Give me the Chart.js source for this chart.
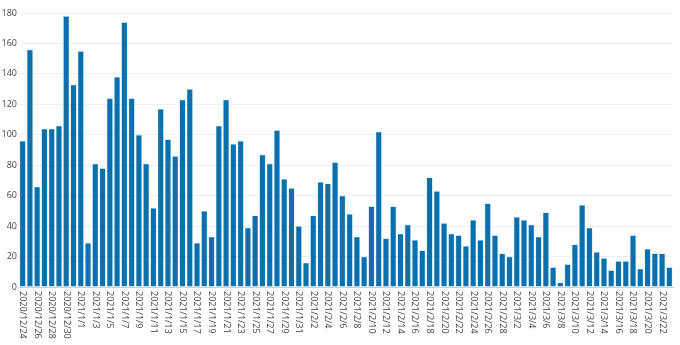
<!DOCTYPE html>
<html>
<head>
<meta charset="utf-8">
<script src="https://cdn.jsdelivr.net/npm/chart.js@4/dist/chart.umd.min.js"></script>
<style>
  html, body { margin: 0; padding: 0; background: #fff; }
  #wrap { width: 680px; height: 345px; position: relative; }
</style>
</head>
<body>
<div id="wrap"><canvas id="chart"></canvas></div>
<script>
// daily dates, one bar each
const dates = [
  '2020/12/24', '2020/12/25', '2020/12/26', '2020/12/27', '2020/12/28', '2020/12/29', '2020/12/30', '2020/12/31',
  '2021/1/1', '2021/1/2', '2021/1/3', '2021/1/4', '2021/1/5', '2021/1/6', '2021/1/7', '2021/1/8',
  '2021/1/9', '2021/1/10', '2021/1/11', '2021/1/12', '2021/1/13', '2021/1/14', '2021/1/15', '2021/1/16',
  '2021/1/17', '2021/1/18', '2021/1/19', '2021/1/20', '2021/1/21', '2021/1/22', '2021/1/23', '2021/1/24',
  '2021/1/25', '2021/1/26', '2021/1/27', '2021/1/28', '2021/1/29', '2021/1/30', '2021/1/31',
  '2021/2/1', '2021/2/2', '2021/2/3', '2021/2/4', '2021/2/5', '2021/2/6', '2021/2/7', '2021/2/8',
  '2021/2/9', '2021/2/10', '2021/2/11', '2021/2/12', '2021/2/13', '2021/2/14', '2021/2/15', '2021/2/16',
  '2021/2/17', '2021/2/18', '2021/2/19', '2021/2/20', '2021/2/21', '2021/2/22', '2021/2/23', '2021/2/24',
  '2021/2/25', '2021/2/26', '2021/2/27', '2021/2/28',
  '2021/3/1', '2021/3/2', '2021/3/3', '2021/3/4', '2021/3/5', '2021/3/6', '2021/3/7', '2021/3/8',
  '2021/3/9', '2021/3/10', '2021/3/11', '2021/3/12', '2021/3/13', '2021/3/14', '2021/3/15', '2021/3/16',
  '2021/3/17', '2021/3/18', '2021/3/19', '2021/3/20', '2021/3/21', '2021/3/22', '2021/3/23'
]

// daily counts
const counts = [
  96, 156, 66, 104, 104, 106, 178, 133, 155, 29,
  81, 78, 124, 138, 174, 124, 100, 81, 52, 117,
  97, 86, 123, 130, 29, 50, 33, 106, 123, 94,
  96, 39, 47, 87, 81, 103, 71, 65, 40, 16,
  47, 69, 68, 82, 60, 48, 33, 20, 53, 102,
  32, 53, 35, 41, 31, 24, 72, 63, 42, 35,
  34, 27, 44, 31, 55, 34, 22, 20, 46, 44,
  41, 33, 49, 13, 3, 15, 28, 54, 39, 23,
  19, 11, 17, 17, 34, 12, 25, 22, 22, 13
]

const yTicks = [0, 20, 40, 60, 80, 100, 120, 140, 160, 180]

const textColor = '#444'
const fontFamily = '"Open Sans", "DejaVu Sans", sans-serif'

// draws every other date label rotated clockwise, reading downward
const downLabels = {
  id: 'downLabels',
  afterDraw(chart) {
    const xScale = chart.scales.x
    const { ctx } = chart
    ctx.save()
    ctx.fillStyle = textColor
    ctx.font = '9px ' + fontFamily
    ctx.textAlign = 'left'
    ctx.textBaseline = 'middle'
    dates.forEach((d, i) => {
      if (i % 2 !== 0) return
      const x = xScale.getPixelForTick(i)
      ctx.save()
      ctx.translate(x, chart.chartArea.bottom + 4)
      ctx.rotate(Math.PI / 2)
      ctx.fillText(d, 0, 0)
      ctx.restore()
    })
    ctx.restore()
  }
}

new Chart(document.getElementById('chart'), {
  type: 'bar',
  data: {
    labels: dates,
    datasets: [{
      data: counts,
      backgroundColor: '#0b6fab',
      borderColor: '#a8dcf6',
      borderWidth: 0.6,
      barPercentage: 0.86,
      categoryPercentage: 1
    }]
  },
  options: {
    responsive: true,
    maintainAspectRatio: false,
    animation: false,
    layout: { padding: { top: 13, right: 7, left: 0, bottom: 0 } },
    plugins: {
      legend: { display: false },
      tooltip: { enabled: false }
    },
    scales: {
      x: {
        offset: true,
        grid: { display: false },
        border: { display: true, color: '#cfcfcf' },
        ticks: { display: false },
        afterFit(scale) { scale.height = 58 }
      },
      y: {
        min: 0,
        max: 180,
        afterBuildTicks(scale) { scale.ticks = yTicks.map(v => ({ value: v })) },
        grid: { color: '#eeeeee', drawTicks: false },
        border: { display: false },
        ticks: {
          color: textColor,
          font: { size: 9, family: fontFamily },
          padding: 2
        },
        afterFit(scale) { scale.width = 19 }
      }
    }
  },
  plugins: [downLabels]
})
</script>
</body>
</html>
